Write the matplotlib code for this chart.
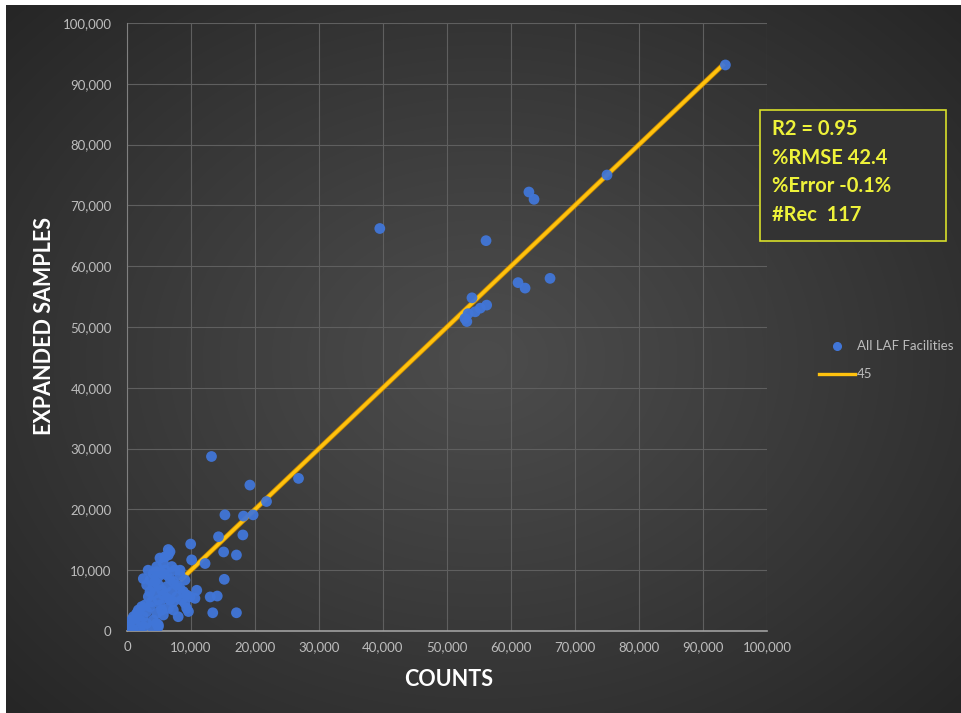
import numpy as np
import matplotlib
matplotlib.use("Agg")
import matplotlib.pyplot as plt
from matplotlib.lines import Line2D
from matplotlib.patches import Rectangle

# ---------------- data ----------------
counts = [
    93500, 75000, 62800, 63600, 39500, 56100, 66100, 61100, 62200, 53900,
    56200, 55200, 54400, 53300, 52800, 53100,
    13200, 19200, 26800, 21800, 15300, 18200, 19700, 14300, 18100,
    9950, 6450, 5150, 6450, 3300, 4600, 7000, 8300, 10100, 12200,
    10900, 13000, 14100, 15200, 15100, 17100, 13400, 17100, 8000, 9600, 4900,
    200, 300, 730, 990, 1510, 1770, 1250, 2030, 2550, 3070, 3590, 3850, 3330,
    3590, 4110, 4375, 4900, 5420, 5940, 6200, 6720, 7240, 7760, 8280, 8800,
    9330, 9840, 10620, 4900, 5420, 5680, 6200, 6720, 7240, 4375, 4900, 5160,
    5420, 5680, 4640, 4110, 4640, 4900, 3850, 3070, 2550, 2030, 990, 470,
    2810, 2290, 6200, 6980, 7760, 8540, 9060, 3070, 2550, 3590, 4110, 4640,
    5680, 5940, 6720, 7500, 8280, 9060, 6460, 7240, 9330,
]
expanded = [
    93100, 75000, 72200, 71000, 66200, 64200, 58000, 57300, 56400, 54800,
    53600, 53100, 52500, 52200, 51400, 50900,
    28700, 24000, 25100, 21300, 19100, 18900, 19100, 15500, 15800,
    14300, 13400, 12000, 12500, 10000, 9750, 10600, 10000, 11700, 11100,
    6700, 5600, 5750, 8500, 13000, 12500, 3000, 3000, 2350, 3200, 1000,
    300, 900, 1810, 2350, 2910, 3450, 1530, 1810, 2350, 3180, 4000, 4820, 5640,
    6470, 7290, 8110, 8930, 9490, 10030, 9210, 8610, 8110, 7570, 7020, 6470,
    5920, 5640, 5370, 7570, 6740, 5920, 5370, 5100, 4820, 6200, 5100, 4280,
    3450, 2630, 2910, 1810, 1260, 710, 710, 1260, 710, 440, 160, 440,
    4280, 4000, 7290, 6470, 5640, 5100, 4550, 7570, 8610, 8390, 9490, 10580,
    11140, 12220, 13050, 10030, 9210, 8390, 3730, 3450, 3730,
]
line_45 = [8300, 93300]

x_ticks = list(range(0, 100001, 10000))
y_ticks = list(range(0, 100001, 10000))

stats_lines = ["R2 = 0.95", "%RMSE 42.4", "%Error -0.1%", "#Rec  117"]
scatter_label = "All LAF Facilities"
line_label = "45"

# ---------------- figure ----------------
W, H = 961, 713
fig = plt.figure(figsize=(W / 100, H / 100), dpi=100, facecolor="white")

# radial gradient background
bg = fig.add_axes([6 / W, 0, (W - 6) / W, (H - 5) / H], zorder=0)
bg.set_axis_off()
yy, xx = np.mgrid[0:1:300j, 0:1:400j]
r = np.sqrt(((xx - 0.5) / 0.75) ** 2 + ((yy - 0.5) / 0.8) ** 2)
r = np.clip(r / r.max(), 0, 1)
val = (76 - (76 - 38) * r ** 1.1) / 255.0
img = np.dstack([val, val, val])
bg.imshow(img, aspect="auto", extent=[0, 1, 0, 1], interpolation="bilinear")
bg.set_xlim(0, 1)
bg.set_ylim(0, 1)

ax = fig.add_axes([127 / W, (H - 631) / H, 640 / W, 608 / H], zorder=1)
ax.set_facecolor("none")
ax.set_xlim(0, 100000)
ax.set_ylim(0, 100000)
ax.set_xticks(x_ticks)
ax.set_yticks(y_ticks)
ax.set_xticklabels([f"{v:,}" for v in x_ticks])
ax.set_yticklabels([f"{v:,}" for v in y_ticks])
ax.grid(True, color="#5f5f5f", linewidth=0.8)
ax.set_axisbelow(True)
for s in ["top", "right"]:
    ax.spines[s].set_visible(False)
ax.spines["left"].set_color("#808080")
ax.spines["bottom"].set_color("#a0a0a0")
ax.spines["left"].set_linewidth(0.8)
ax.spines["bottom"].set_linewidth(1.2)
ax.tick_params(axis="both", length=0, colors="#bdbdbd", labelsize=9.5)
ax.tick_params(axis="y", pad=11)
ax.tick_params(axis="x", pad=7)
for lab in ax.get_xticklabels() + ax.get_yticklabels():
    lab.set_fontfamily("Lato")

ax.plot(line_45, line_45, color="#c98a00", linewidth=3.6, solid_capstyle="butt", zorder=3)
ax.plot(line_45, line_45, color="#ffc20e", linewidth=2.4, solid_capstyle="butt", zorder=3)
ax.scatter(counts, expanded, s=60, color="#4176d8", edgecolors="none", zorder=4, alpha=0.95)

fig.text(449 / W, 1 - 680 / H, "COUNTS", color="white", fontsize=15.5,
         fontweight="bold", family="Lato", ha="center", va="center")
fig.text(45 / W, 1 - 326 / H, "EXPANDED SAMPLES", color="white", fontsize=15.5,
         fontweight="bold", family="Lato", ha="center", va="center", rotation=90)

# stats box
fig.patches.append(Rectangle((760 / W, 1 - 241 / H), 186 / W, 131 / H,
                             transform=fig.transFigure, facecolor="#333333",
                             edgecolor="#d8df2a", linewidth=1.2, zorder=5))
for i, t in enumerate(stats_lines):
    fig.text(772 / W, 1 - (129 + i * 28.5) / H, t, color="#eef23a", fontsize=14.5,
             fontweight="bold", family="Lato", ha="left", va="center", zorder=6)

# legend
fig.add_artist(Line2D([837 / W], [1 - 346 / H], marker="o", markersize=5.5,
                      color="#4176d8", linestyle="none", transform=fig.transFigure))
fig.text(857 / W, 1 - 346 / H, scatter_label, color="#bdbdbd", fontsize=9.5,
         family="Lato", ha="left", va="center")
fig.add_artist(Line2D([819 / W, 855 / W], [1 - 374 / H, 1 - 374 / H], color="#ffc20e",
                      linewidth=2.4, transform=fig.transFigure))
fig.text(857 / W, 1 - 374 / H, line_label, color="#bdbdbd", fontsize=9.5,
         family="Lato", ha="left", va="center")

fig.savefig("out.png", dpi=100, facecolor="white")
